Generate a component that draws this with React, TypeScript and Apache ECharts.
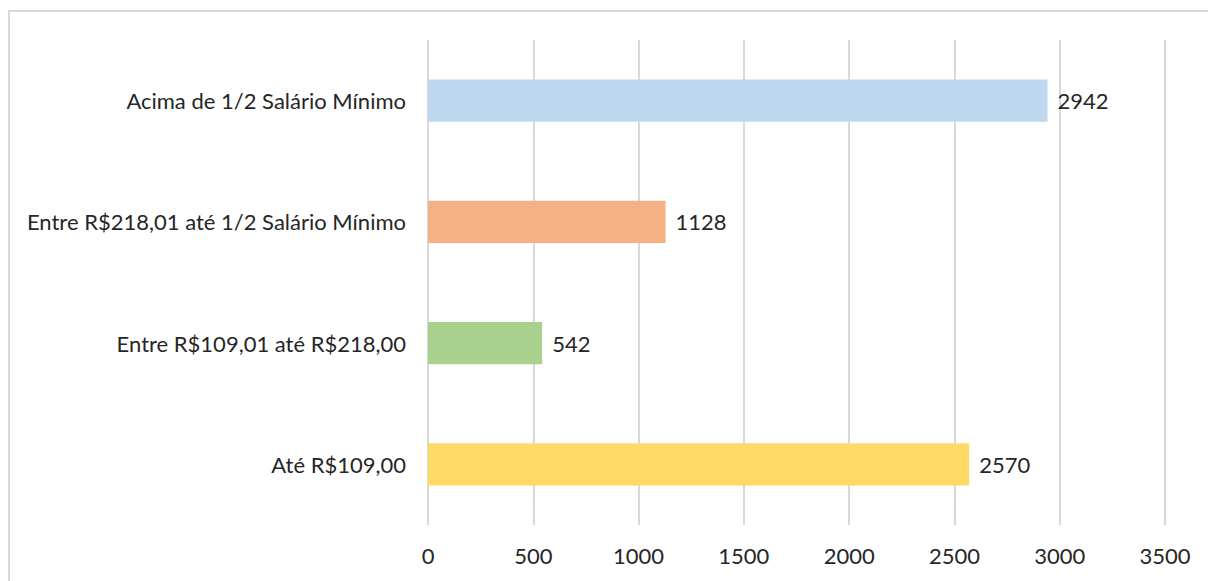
import React, { useEffect, useRef } from "react";
import * as echarts from "echarts";

const categories = [
  "Até R$109,00",
  "Entre R$109,01 até R$218,00",
  "Entre R$218,01 até 1/2 Salário Mínimo",
  "Acima de 1/2 Salário Mínimo",
];
const values = [2570, 542, 1128, 2942];
const colors = ["#FFD966", "#A9D18E", "#F4B183", "#BDD7EE"];
const xTicks = { min: 0, max: 3500, interval: 500 };

export default function App() {
  const ref = useRef<HTMLDivElement>(null);
  useEffect(() => {
    if (!ref.current) return;
    const chart = echarts.init(ref.current, null, { renderer: "svg" });
    const font = "Lato";
    chart.setOption({
      animation: false,
      backgroundColor: "#ffffff",
      graphic: [
        {
          type: "rect",
          shape: { x: 9, y: 11, width: 1400, height: 800 },
          style: { fill: "none", stroke: "#d9d9d9", lineWidth: 2 },
          silent: true,
        },
      ],
      grid: { left: 428, right: 43, top: 40, bottom: 56, containLabel: false },
      xAxis: {
        type: "value",
        min: xTicks.min,
        max: xTicks.max,
        interval: xTicks.interval,
        axisLine: { show: false },
        axisTick: { show: false },
        splitLine: { show: true, lineStyle: { color: "#d9d9d9", width: 2 } },
        axisLabel: {
          color: "#262626",
          fontFamily: font,
          fontSize: 22,
          margin: 19,
          formatter: (v: number) => String(v),
        },
      },
      yAxis: {
        type: "category",
        data: categories,
        axisLine: { show: false },
        axisTick: { show: false },
        axisLabel: { color: "#262626", fontFamily: font, fontSize: 22, margin: 22 },
      },
      series: [
        {
          type: "bar",
          data: values.map((v, i) => ({ value: v, itemStyle: { color: colors[i] } })),
          barWidth: "35%",
          label: {
            show: true,
            position: "right",
            distance: 10,
            color: "#262626",
            fontFamily: font,
            fontSize: 22,
            formatter: (p: any) => String(p.value),
          },
        },
      ],
    });
    return () => chart.dispose();
  }, []);
  return (
    <div
      ref={ref}
      style={{ position: "fixed", left: 0, top: 0, width: 1208, height: 581 }}
    />
  );
}
